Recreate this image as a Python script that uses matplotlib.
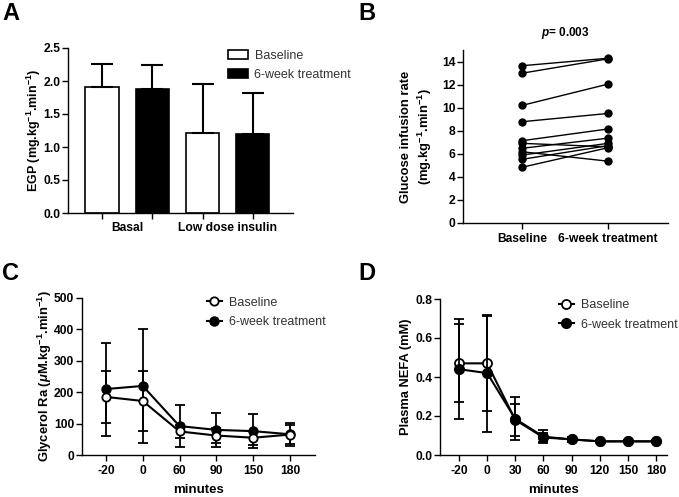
import matplotlib
matplotlib.use("Agg")
import matplotlib.pyplot as plt
from matplotlib.lines import Line2D
import numpy as np

plt.rcParams['font.family'] = ['Liberation Sans', 'DejaVu Sans']
plt.rcParams['font.size'] = 8.5
plt.rcParams['font.weight'] = 'bold'
plt.rcParams['mathtext.fontset'] = 'custom'
plt.rcParams['mathtext.rm'] = 'Liberation Sans:bold'
plt.rcParams['mathtext.bf'] = 'Liberation Sans:bold'
plt.rcParams['mathtext.it'] = 'Liberation Sans:bold:italic'
plt.rcParams['axes.linewidth'] = 1.0

# panel A - EGP
egp_groups = ['Basal', 'Low dose insulin']
egp_base = [1.91, 1.21]
egp_base_err = [0.35, 0.74]
egp_treat = [1.88, 1.20]
egp_treat_err = [0.36, 0.62]

# panel B - glucose infusion rate, paired
gir_base = [13.65, 13.0, 10.2, 8.78, 7.13, 6.9, 6.47, 6.17, 5.88, 5.51, 4.82]
gir_treat = [14.3, 14.25, 12.05, 9.5, 8.15, 6.6, 7.35, 5.35, 6.9, 6.7, 6.52]

# panel C - glycerol Ra
gly_times = ['-20', '0', '60', '90', '150', '180']
gly_base = [185, 172, 75, 62, 55, 65]
gly_base_err = [82, 95, 22, 25, 22, 30]
gly_treat = [210, 220, 92, 80, 76, 66]
gly_treat_err = [148, 181, 66, 53, 55, 37]

# panel D - plasma NEFA
nefa_times = ['-20', '0', '30', '60', '90', '120', '150', '180']
nefa_base = [0.47, 0.47, 0.18, 0.09, 0.08, 0.07, 0.07, 0.07]
nefa_base_err = [0.20, 0.245, 0.08, 0.025, 0.01, 0.005, 0.005, 0.005]
nefa_treat = [0.44, 0.42, 0.185, 0.094, 0.08, 0.07, 0.07, 0.07]
nefa_treat_err = [0.255, 0.30, 0.11, 0.033, 0.012, 0.005, 0.005, 0.005]

W, H = 679, 497
fig = plt.figure(figsize=(W / 100, H / 100), dpi=100)


def box(l, r, t, b):
    return [l / W, (H - b) / H, (r - l) / W, (b - t) / H]


def style(ax):
    for s in ['top', 'right']:
        ax.spines[s].set_visible(False)
    ax.tick_params(direction='out', length=4, width=1, color='black', labelsize=8.7)
    ax.tick_params(axis='y', pad=1.5)
    for lab in ax.get_xticklabels() + ax.get_yticklabels():
        lab.set_fontweight('bold')


def line_legend(ax, anchor, ms):
    h = [Line2D([], [], color='black', lw=1.5, marker='o', markersize=ms,
                markerfacecolor='white', markeredgewidth=1.3),
         Line2D([], [], color='black', lw=1.5, marker='o', markersize=ms + 0.5,
                markerfacecolor='black')]
    leg = ax.legend(h, ['Baseline', '6-week treatment'], loc='upper left',
                    bbox_to_anchor=anchor, frameon=False,
                    prop={'weight': 'normal', 'size': 9}, handlelength=1.2,
                    handletextpad=0.6, labelspacing=0.6, borderaxespad=0)
    for t in leg.get_texts():
        t.set_color('#333333')


# ---- A ----
axA = fig.add_axes(box(68, 293, 48, 213))
xb = np.array([0, 2])
xt = np.array([1, 3])
axA.bar(xb, egp_base, width=0.66, color='white', edgecolor='black', linewidth=1.2,
        yerr=[np.zeros(2), egp_base_err], capsize=8, error_kw=dict(elinewidth=1.5, capthick=1.5),
        label='Baseline')
axA.bar(xt, egp_treat, width=0.66, color='black', edgecolor='black', linewidth=1.2,
        yerr=[np.zeros(2), egp_treat_err], capsize=8, error_kw=dict(elinewidth=1.5, capthick=1.5, ecolor='black'),
        label='6-week treatment')
axA.set_xlim(-0.676, 3.8)
axA.set_ylim(0, 2.5)
axA.set_yticks(np.arange(0, 2.51, 0.5))
axA.set_yticklabels(['%.1f' % v for v in np.arange(0, 2.51, 0.5)])
axA.set_xticks([0, 1, 2, 3])
axA.set_xticklabels([])
for i, g in enumerate(egp_groups):
    axA.text(2 * i + 0.5, -0.227, g, ha='center', va='center', fontsize=8.7, fontweight='bold')
axA.set_ylabel(r'EGP (mg.kg$^{-1}$.min$^{-1}$)', fontweight='bold', fontsize=9, labelpad=0.5)
style(axA)
leg = axA.legend(loc='upper left', bbox_to_anchor=(0.69, 1.02), frameon=False,
                 prop={'weight': 'normal', 'size': 9}, handlelength=1.6, handleheight=0.8,
                 handletextpad=0.5, labelspacing=0.55, borderaxespad=0)
for t in leg.get_texts():
    t.set_color('#333333')

# ---- B ----
axB = fig.add_axes(box(463, 668, 50.2, 222.7))
for b, t in zip(gir_base, gir_treat):
    axB.plot([0, 1], [b, t], color='black', linewidth=1.0, marker='o',
             markersize=5, markerfacecolor='black')
axB.set_xlim(-0.686, 1.698)
axB.set_ylim(0, 15)
axB.set_yticks(range(0, 15, 2))
axB.set_xticks([0, 1])
axB.set_xticklabels(['Baseline', '6-week treatment'])
axB.set_ylabel('Glucose infusion rate\n' + r'(mg.kg$^{-1}$.min$^{-1}$)', fontweight='bold',
               fontsize=9.4, labelpad=6, linespacing=1.25)
style(axB)
fig.text(565 / W, (H - 33) / H, r'$\it{p}$= 0.003', ha='center', va='center',
         fontsize=8.5, fontweight='bold')

# ---- C ----
axC = fig.add_axes(box(82, 315, 298, 455))
xc = np.arange(len(gly_times))
axC.errorbar(xc, gly_base, yerr=gly_base_err, color='black', linewidth=1.5, marker='o',
             markersize=6, markerfacecolor='white', markeredgewidth=1.3, capsize=3.3,
             elinewidth=1.3, capthick=1.3, zorder=3)
axC.errorbar(xc, gly_treat, yerr=gly_treat_err, color='black', linewidth=1.5, marker='o',
             markersize=6.5, markerfacecolor='black', capsize=3.3,
             elinewidth=1.3, capthick=1.3, zorder=2)
axC.set_xlim(-0.65, 5.68)
axC.set_ylim(0, 500)
axC.set_yticks(range(0, 501, 100))
axC.set_xticks(xc)
axC.set_xticklabels(gly_times)
axC.set_ylabel(r'Glycerol Ra ($\mu$M.kg$^{-1}$.min$^{-1}$)', fontweight='bold', fontsize=9.4,
               labelpad=0)
axC.set_xlabel('minutes', fontweight='bold', fontsize=9.5, labelpad=5)
style(axC)
line_legend(axC, (0.515, 1.04), 6)

# ---- D ----
axD = fig.add_axes(box(440, 667, 299, 455))
xd = np.arange(len(nefa_times))
axD.errorbar(xd, nefa_base, yerr=nefa_base_err, color='black', linewidth=1.5, marker='o',
             markersize=6.5, markerfacecolor='white', markeredgewidth=1.3, capsize=3.3,
             elinewidth=1.3, capthick=1.3, zorder=3)
axD.errorbar(xd, nefa_treat, yerr=nefa_treat_err, color='black', linewidth=1.5, marker='o',
             markersize=7, markerfacecolor='black', capsize=3.3,
             elinewidth=1.3, capthick=1.3, zorder=4)
axD.set_xlim(-0.675, 7.39)
axD.set_ylim(0, 0.8)
axD.set_yticks(np.arange(0, 0.81, 0.2))
axD.set_yticklabels(['%.1f' % v for v in np.arange(0, 0.81, 0.2)])
axD.set_xticks(xd)
axD.set_xticklabels(nefa_times)
axD.set_ylabel('Plasma NEFA (mM)', fontweight='bold', fontsize=9.3, labelpad=2)
axD.set_xlabel('minutes', fontweight='bold', fontsize=9.5, labelpad=5)
style(axD)
line_legend(axD, (0.50, 1.03), 6.5)

# panel letters
for lx, ly, s in [(2, 2, 'A'), (358, 2, 'B'), (2, 262, 'C'), (358, 262, 'D')]:
    fig.text(lx / W, (H - ly) / H, s, ha='left', va='top', fontsize=17, fontweight='bold')

fig.savefig('out.png', dpi=100)
